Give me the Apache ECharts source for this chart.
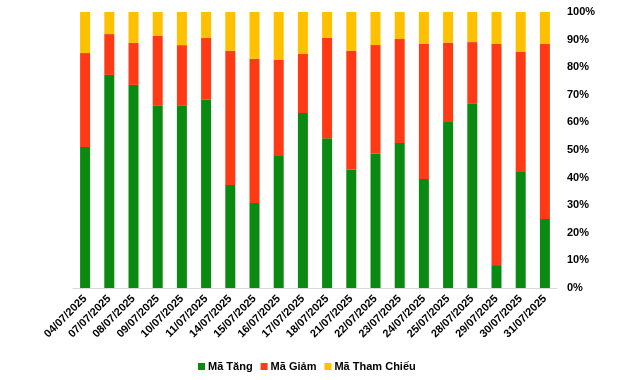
<!DOCTYPE html>
<html><head><meta charset="utf-8">
<script src="https://cdn.jsdelivr.net/npm/echarts@6/dist/echarts.min.js"></script>
<style>html,body{margin:0;padding:0;background:#fff}#c{width:640px;height:380px}</style>
</head><body><div id="c"></div>
<script>
const categories = ["04/07/2025","07/07/2025","08/07/2025","09/07/2025","10/07/2025","11/07/2025","14/07/2025","15/07/2025","16/07/2025","17/07/2025","18/07/2025","21/07/2025","22/07/2025","23/07/2025","24/07/2025","25/07/2025","28/07/2025","29/07/2025","30/07/2025","31/07/2025"];
const maTang = [51.1,77.2,73.6,66.0,66.0,68.2,37.3,30.8,47.8,63.4,54.3,42.8,48.6,52.5,39.5,60.1,66.7,8.3,42.0,25.0];
const maGiam = [34.0,14.8,15.2,25.3,22.0,22.4,48.6,52.2,34.8,21.4,36.3,43.1,39.4,37.7,48.9,28.7,22.4,80.1,43.5,63.4];
const maThamChieu = [14.9,8.0,11.2,8.7,12.0,9.4,14.1,17.0,17.4,15.2,9.4,14.1,12.0,9.8,11.6,11.2,10.9,11.6,14.5,11.6];
const yTicks = [0,10,20,30,40,50,60,70,80,90,100];

const font = 'Liberation Sans, Arial, sans-serif';
const chart = echarts.init(document.getElementById('c'), null, {renderer:'canvas'});
const mk = (name, data, color) => ({
  name, type:'bar', stack:'s', data, barWidth:10,
  itemStyle:{color}, emphasis:{disabled:true}
});
chart.setOption({
  animation:false,
  grid:{left:73, right:83, top:12, bottom:92, containLabel:false},
  legend:{
    bottom:3, left:193, itemWidth:7, itemHeight:7, itemGap:8, icon:'rect',
    textStyle:{fontFamily:font, fontWeight:'bold', fontSize:11, color:'#000', padding:[0,0,0,-2]},
    data:['Mã Tăng','Mã Giảm','Mã Tham Chiếu']
  },
  xAxis:{
    type:'category', data:categories,
    axisLine:{lineStyle:{color:'#d9d9d9'}},
    axisTick:{show:false},
    axisLabel:{rotate:45, interval:0, fontFamily:font, fontWeight:'bold', fontSize:11, color:'#000', margin:9}
  },
  yAxis:{
    type:'value', position:'right', min:0, max:100, interval:10,
    splitLine:{show:false}, axisLine:{show:false}, axisTick:{show:false},
    axisLabel:{formatter: v => yTicks.includes(v) ? v + '%' : '', fontFamily:font, fontWeight:'bold', fontSize:11, color:'#000', margin:10}
  },
  series:[
    mk('Mã Tăng', maTang, '#0B8A12'),
    mk('Mã Giảm', maGiam, '#FF3A14'),
    mk('Mã Tham Chiếu', maThamChieu, '#FFC000')
  ]
});
</script></body></html>
